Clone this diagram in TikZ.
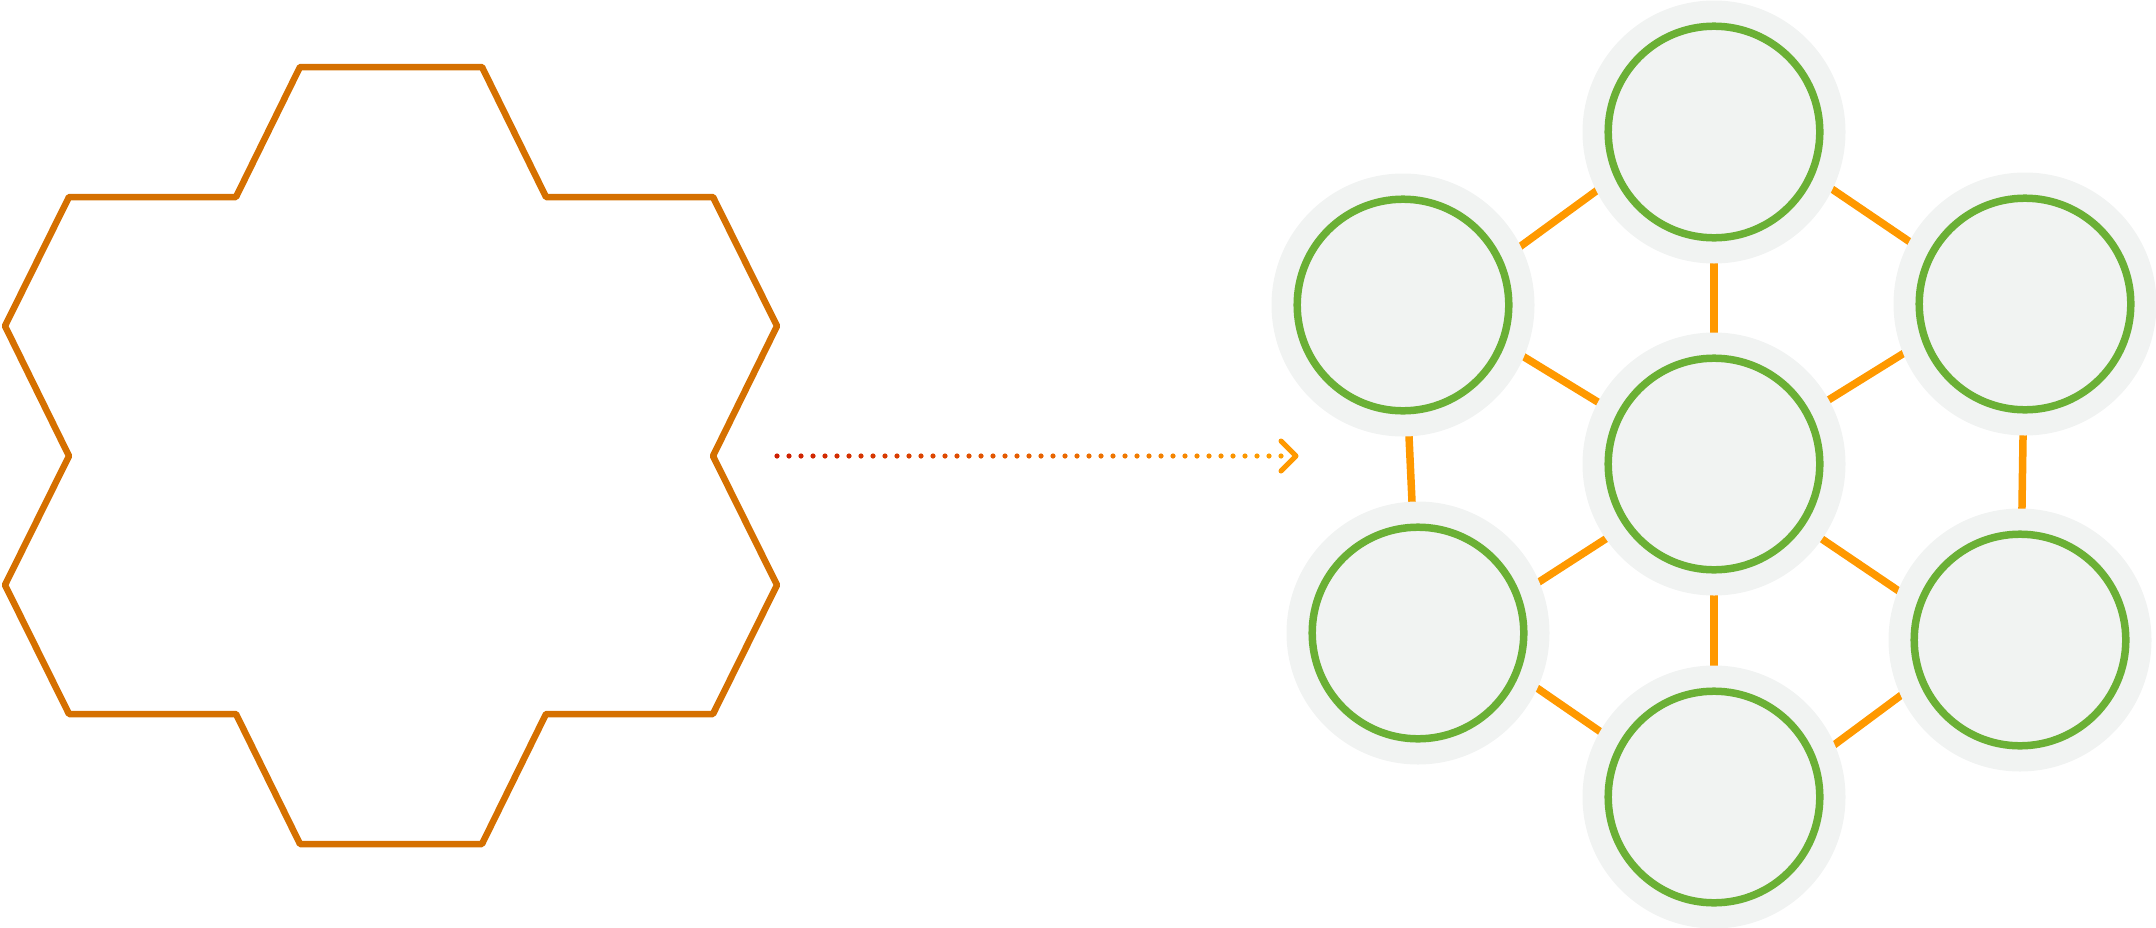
\documentclass[tikz,border=0pt]{standalone}
\usetikzlibrary{calc}
\definecolor{polyc}{RGB}{213,112,0}
\definecolor{edgec}{RGB}{255,153,0}
\definecolor{ringc}{RGB}{107,176,53}
\definecolor{haloc}{RGB}{241,243,242}
\definecolor{dotstart}{RGB}{205,30,0}
\definecolor{dotend}{RGB}{255,160,0}
\pgfdeclarelayer{background}
\pgfsetlayers{background,main}
\tikzset{
  cell/.style={circle, fill=haloc, minimum size=263pt, inner sep=0pt,
    path picture={\draw[ringc, line width=7.5pt] (path picture bounding box.center) circle[radius=105.8pt];}},
  link/.style={draw=edgec, line width=7.5pt},
  outline/.style={draw=polyc, line width=6.5pt, line join=round},
  chev/.style={draw=edgec, line width=5pt, line cap=round, line join=round}
}
\begin{document}
\begin{tikzpicture}[x=1pt,y=-1pt]
\useasboundingbox (0,0) rectangle (2156,927);
% cross-shaped hexagon outline
\draw[outline] (300,67) -- (482,67) -- (546,197) -- (713,197) -- (777,326) -- (713,456)
  -- (777,585) -- (713,714) -- (546,714) -- (482,844) -- (300,844) -- (236,714)
  -- (69,714) -- (5,585) -- (69,456) -- (5,326) -- (69,197) -- (236,197) -- cycle;
% network cells
\node[cell] (t)  at (1714,132) {};
\node[cell] (ul) at (1403,305) {};
\node[cell] (ur) at (2025,304) {};
\node[cell] (c)  at (1714,464) {};
\node[cell] (ll) at (1418,633) {};
\node[cell] (lr) at (2020,640) {};
\node[cell] (b)  at (1714,797) {};
\begin{pgfonlayer}{background}
  \draw[link] ($(t.center)+(0,-27)$) -- ($(ul.center)+(0,27)$);
  \draw[link] ($(t.center)+(0,-23)$) -- ($(ur.center)+(0,16)$);
  \draw[link] (t.center) -- (c.center);
  \draw[link] ($(ul.center)+(0,-22)$) -- ($(c.center)+(0,9)$);
  \draw[link] ($(ur.center)+(0,-26)$) -- ($(c.center)+(0,7)$);
  \draw[link] (ul.center) -- (ll.center);
  \draw[link] (ur.center) -- (lr.center);
  \draw[link] ($(c.center)+(0,5)$) -- ($(ll.center)+(0,27)$);
  \draw[link] ($(c.center)+(0,2)$) -- ($(lr.center)+(0,33)$);
  \draw[link] (c.center) -- (b.center);
  \draw[link] ($(ll.center)+(0,-27)$) -- ($(b.center)+(0,13)$);
  \draw[link] ($(lr.center)+(0,-33)$) -- ($(b.center)+(0,37)$);
\end{pgfonlayer}
% dotted gradient arrow
\coordinate (as) at (777,456);
\coordinate (ae) at (1281,456);
\foreach \i in {0,...,42} {
  \pgfmathsetmacro\p{100*\i/42}
  \fill[dotend!\p!dotstart] ($(as)!\i/42!(ae)$) circle[radius=2.6];
}
\draw[chev] ($(ae)+(0,-15)$) -- ($(ae)+(15,0)$) -- ($(ae)+(0,15)$);
\end{tikzpicture}
\end{document}
